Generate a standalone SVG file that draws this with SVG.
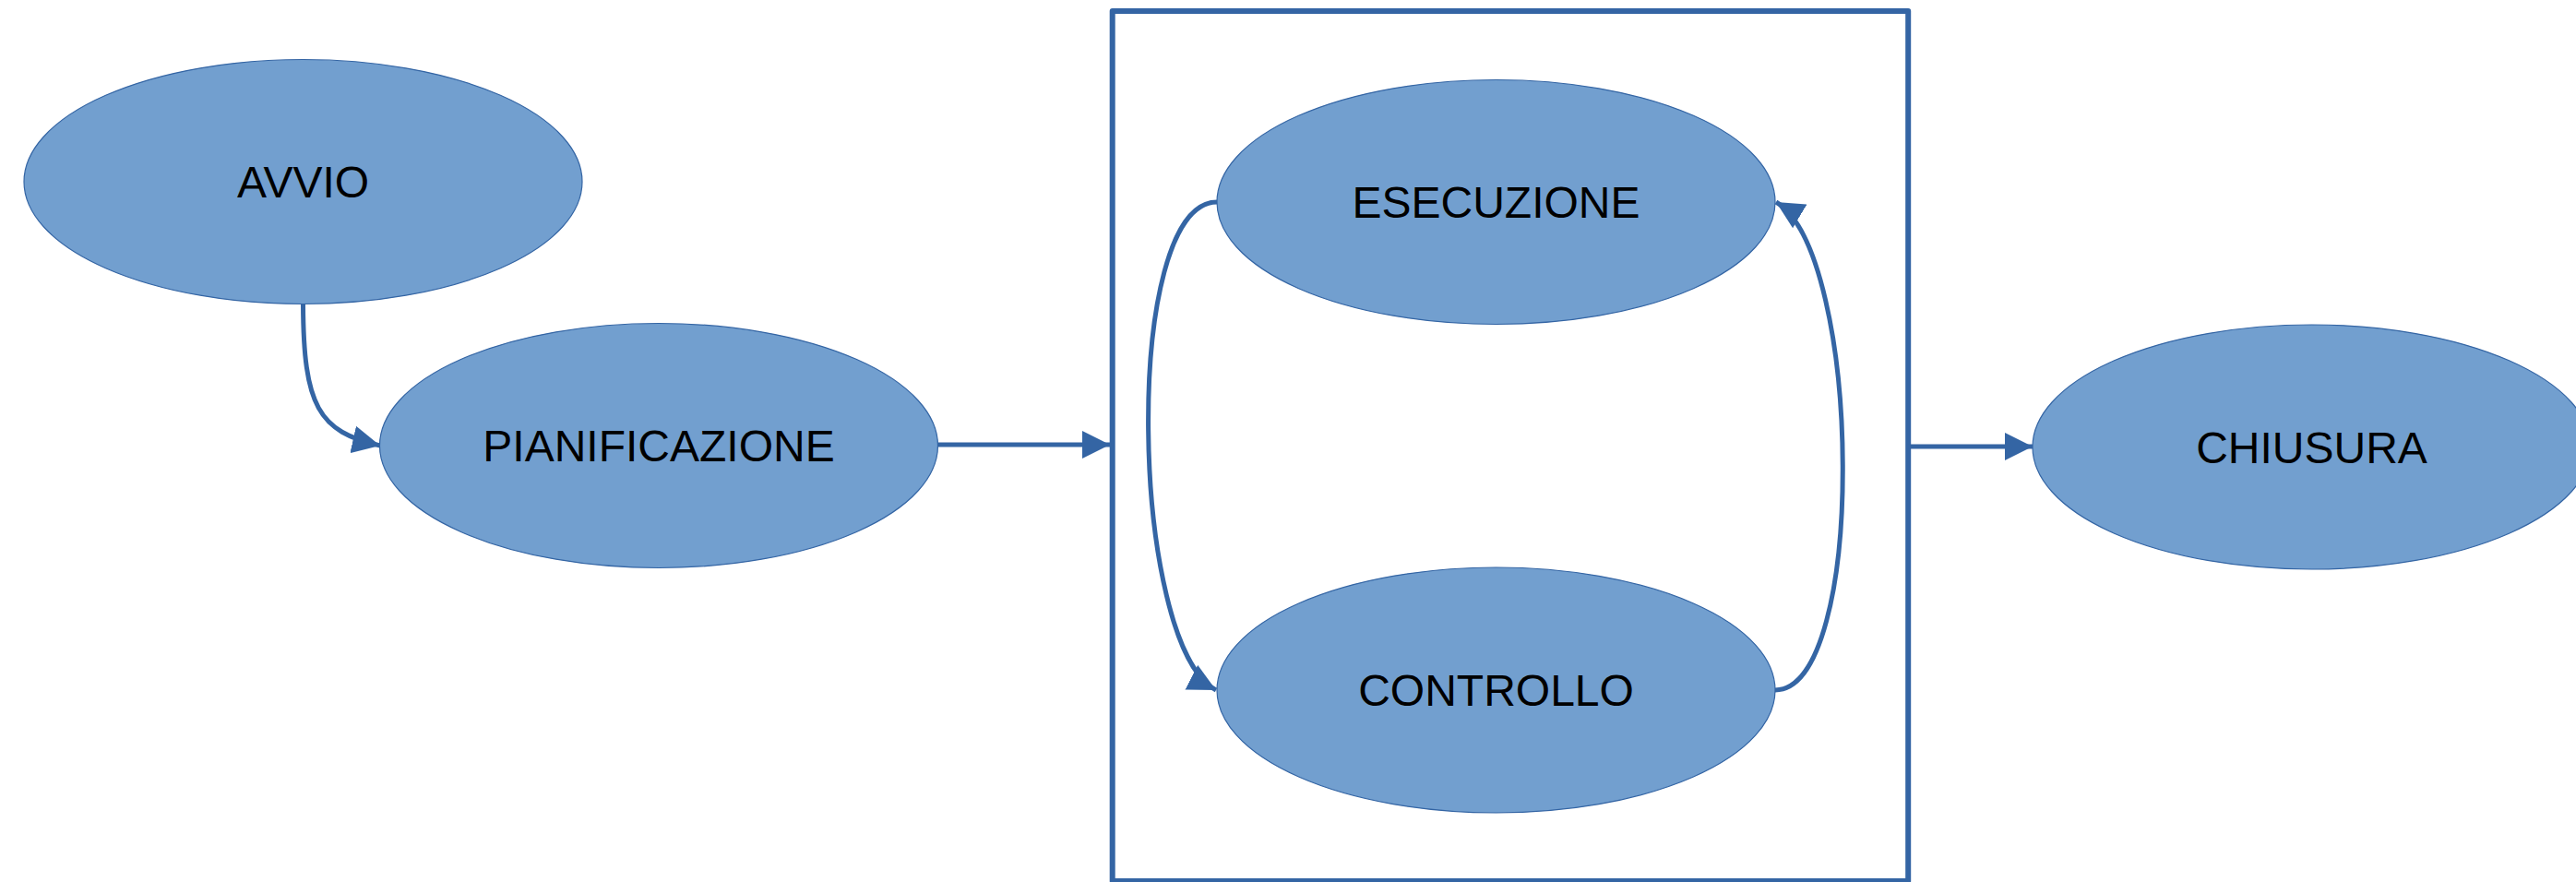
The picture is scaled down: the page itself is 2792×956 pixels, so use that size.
<svg xmlns="http://www.w3.org/2000/svg" width="2792" height="956" viewBox="0 0 2792 956">
<style>
.node ellipse{fill:#729fcf;stroke:#3465a4;stroke-width:1.2}
.node text{font-family:"Liberation Sans",Arial,sans-serif;font-size:48px;fill:#000;text-anchor:middle}
.conn path{fill:none;stroke:#3465a4;stroke-width:5}
.frame{fill:none;stroke:#3465a4;stroke-width:6;stroke-linejoin:round}
</style>
<defs>
<marker id="arrow" markerUnits="userSpaceOnUse" markerWidth="31" markerHeight="30" refX="30" refY="15" orient="auto" viewBox="0 0 31 30">
<path d="M0,0 L30,15 L0,30 z" fill="#3465a4"/>
</marker>
</defs>
<rect id="phase-box" class="frame" x="1205.7" y="12" width="862.5" height="943"/>
<g id="connectors" class="conn">
<path d="M328.5,330 C329,440 345,468 412,483" marker-end="url(#arrow)"/>
<path d="M1017,482 L1203,482" marker-end="url(#arrow)"/>
<path d="M2068,484 L2203,484" marker-end="url(#arrow)"/>
<path d="M1319,219 C1215,219 1225,700 1318,748" marker-end="url(#arrow)"/>
<path d="M1924,748 C2024,748 2019,275 1925,219" marker-end="url(#arrow)"/>
</g>
<g id="avvio" class="node">
<ellipse cx="328.5" cy="197" rx="302.5" ry="132.5"/>
<text x="328.5" y="214">AVVIO</text>
</g>
<g id="pianificazione" class="node">
<ellipse cx="714" cy="483" rx="302.5" ry="132.5"/>
<text x="714" y="500">PIANIFICAZIONE</text>
</g>
<g id="esecuzione" class="node">
<ellipse cx="1621.5" cy="219" rx="302.5" ry="132.5"/>
<text x="1621.5" y="236">ESECUZIONE</text>
</g>
<g id="controllo" class="node">
<ellipse cx="1621.5" cy="748" rx="302.5" ry="133"/>
<text x="1621.5" y="765">CONTROLLO</text>
</g>
<g id="chiusura" class="node">
<ellipse cx="2505.5" cy="484.5" rx="302.5" ry="132.5"/>
<text x="2505.5" y="501.5">CHIUSURA</text>
</g>
</svg>
